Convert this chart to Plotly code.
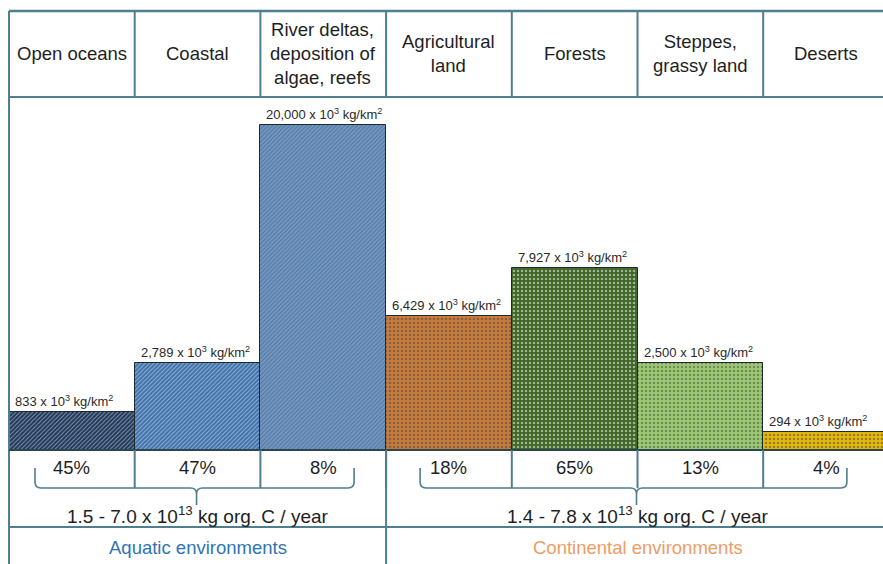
import plotly.graph_objects as go

# ---------------- data ----------------
categories = ["Open oceans", "Coastal", "River deltas,<br>deposition of<br>algae, reefs",
              "Agricultural<br>land", "Forests", "Steppes,<br>grassy land", "Deserts"]
values = [833, 2789, 20000, 6429, 7927, 2500, 294]          # x 10^3 kg/km2 (bar labels)
bar_heights = [11.8, 26.7, 100.0, 41.3, 55.8, 26.7, 5.6]    # schematic drawn heights (% of tallest)
shares = ["45%", "47%", "8%", "18%", "65%", "13%", "4%"]
groups = ["Aquatic environments", "Continental environments"]
group_totals = ["1.5 - 7.0 x 10<sup>13</sup> kg org. C / year",
                "1.4 - 7.8 x 10<sup>13</sup> kg org. C / year"]
group_members = [[0, 1, 2], [3, 4, 5, 6]]

# ---------------- styles ----------------
bar_colors = ["#1e375a", "#3e71ab", "#6e98ca", "#c97b3c", "#3f6525", "#9dcb73", "#e6b80c"]
pattern_fg = ["#10213a", "#2d5b8f", "#5581b3", "#9b5d2a", "#2c4a18", "#7fae57", "#c29a00"]
pattern_shape = ["/", "/", "/", ".", ".", ".", "."]
pattern_size = [3, 3, 3, 4, 4, 4, 4]
group_colors = ["#2f74b5", "#ee9c66"]
LINE = "#4f7e8e"
FONT = "Liberation Sans, Arial, sans-serif"
TXT = "#1e1e1e"

W, H = 883, 564
LEFT, CW = 9.0, 125.7          # table left edge and column width (px)
BASE, HEAD_TOP, HEAD_BOT = 450, 11, 97


def fx(px):
    return px / W


def fy(py):
    return 1 - py / H


def col_edge(k):
    return LEFT + k * CW


n = len(categories)
x_idx = list(range(n))

fig = go.Figure()
fig.add_trace(go.Bar(
    x=x_idx, y=bar_heights, width=1.0,
    marker=dict(color=bar_colors,
                line=dict(color="#1f2a2e", width=1),
                pattern=dict(shape=pattern_shape, fgcolor=pattern_fg,
                             bgcolor=bar_colors, size=pattern_size, solidity=0.3)),
    hoverinfo="skip", showlegend=False))

ymax = 100.0 * (BASE - HEAD_BOT) / (BASE - 124.5)
fig.update_layout(
    width=W, height=H, margin=dict(l=0, r=0, t=0, b=0),
    paper_bgcolor="white", plot_bgcolor="white",
    bargap=0,
    xaxis=dict(range=[-0.5 - LEFT / CW, -0.5 + (W - LEFT) / CW], visible=False,
               domain=[0, 1], fixedrange=True),
    yaxis=dict(range=[0, ymax], visible=False, domain=[fy(BASE), fy(HEAD_BOT)],
               fixedrange=True),
    font=dict(family=FONT, color=TXT),
)

shapes = []


def hline(y, x0=LEFT, x1=W, w=2, color=LINE):
    shapes.append(dict(type="line", xref="paper", yref="paper",
                       x0=fx(x0), x1=fx(x1), y0=fy(y), y1=fy(y),
                       line=dict(color=color, width=w)))


def vline(x, y0, y1, w=2, color=LINE):
    shapes.append(dict(type="line", xref="paper", yref="paper",
                       x0=fx(x), x1=fx(x), y0=fy(y0), y1=fy(y1),
                       line=dict(color=color, width=w)))


# header box
hline(HEAD_TOP, w=2.5)
hline(HEAD_BOT)
for k in range(1, n):
    vline(col_edge(k), HEAD_TOP, HEAD_BOT)
vline(LEFT, HEAD_TOP, H)
# baseline and percent row
hline(BASE, color="#2c4650")
for k in range(1, n):
    vline(col_edge(k), BASE, 488)
vline(col_edge(3), BASE, H)
hline(527)

# braces (left / right insets in px)
brace_in = [(26, 32), (34, 42)]
for gi, mem in enumerate(group_members):
    left_e = col_edge(mem[0])
    right_e = col_edge(mem[-1] + 1)
    x0 = left_e + brace_in[gi][0]
    x1 = right_e - brace_in[gi][1]
    xc = (left_e + right_e) / 2 - 1
    yt, yb, yc = 468, 488, 505
    r = 6
    pts = [
        f"M {fx(x0)},{fy(yt)}", f"L {fx(x0)},{fy(yb - r)}",
        f"Q {fx(x0)},{fy(yb)} {fx(x0 + r)},{fy(yb)}",
        f"L {fx(xc - r)},{fy(yb)}",
        f"Q {fx(xc)},{fy(yb)} {fx(xc)},{fy(yb + r)}",
        f"L {fx(xc)},{fy(yc)}",
        f"M {fx(xc)},{fy(yb + r)}",
        f"Q {fx(xc)},{fy(yb)} {fx(xc + r)},{fy(yb)}",
        f"L {fx(x1 - r)},{fy(yb)}",
        f"Q {fx(x1)},{fy(yb)} {fx(x1)},{fy(yb - r)}",
        f"L {fx(x1)},{fy(yt)}",
    ]
    shapes.append(dict(type="path", xref="paper", yref="paper", path=" ".join(pts),
                       line=dict(color=LINE, width=1.6)))

fig.update_layout(shapes=shapes)

ann = []
# header labels
for i, c in enumerate(categories):
    ann.append(dict(x=i, xref="x", y=fy(54), yref="paper", text=c, showarrow=False,
                    xanchor="center", yanchor="middle",
                    font=dict(size=18.5, color=TXT, family=FONT)))
# value labels
for i, (v, h) in enumerate(zip(values, bar_heights)):
    ann.append(dict(x=i - 0.5, xref="x", y=h, yref="y",
                    text=f"{v:,} x 10<sup>3</sup> kg/km<sup>2</sup>",
                    showarrow=False, xanchor="left", yanchor="bottom",
                    xshift=4, yshift=1,
                    font=dict(size=13, color="#2a2a2a", family=FONT)))
# shares
for i, s in enumerate(shares):
    ann.append(dict(x=i, xref="x", y=fy(467), yref="paper", text=s, showarrow=False,
                    xanchor="center", yanchor="middle",
                    font=dict(size=18.5, color=TXT, family=FONT)))
# group totals and names
for gi, mem in enumerate(group_members):
    xc = (col_edge(mem[0]) + col_edge(mem[-1] + 1)) / 2
    ann.append(dict(x=fx(xc), xref="paper", y=fy(515), yref="paper",
                    text=group_totals[gi], showarrow=False,
                    xanchor="center", yanchor="middle",
                    font=dict(size=19, color=TXT, family=FONT)))
    ann.append(dict(x=fx(xc), xref="paper", y=fy(547), yref="paper",
                    text=groups[gi], showarrow=False,
                    xanchor="center", yanchor="middle",
                    font=dict(size=18.5, color=group_colors[gi], family=FONT)))

fig.update_layout(annotations=ann)
fig.write_html("out.html")
